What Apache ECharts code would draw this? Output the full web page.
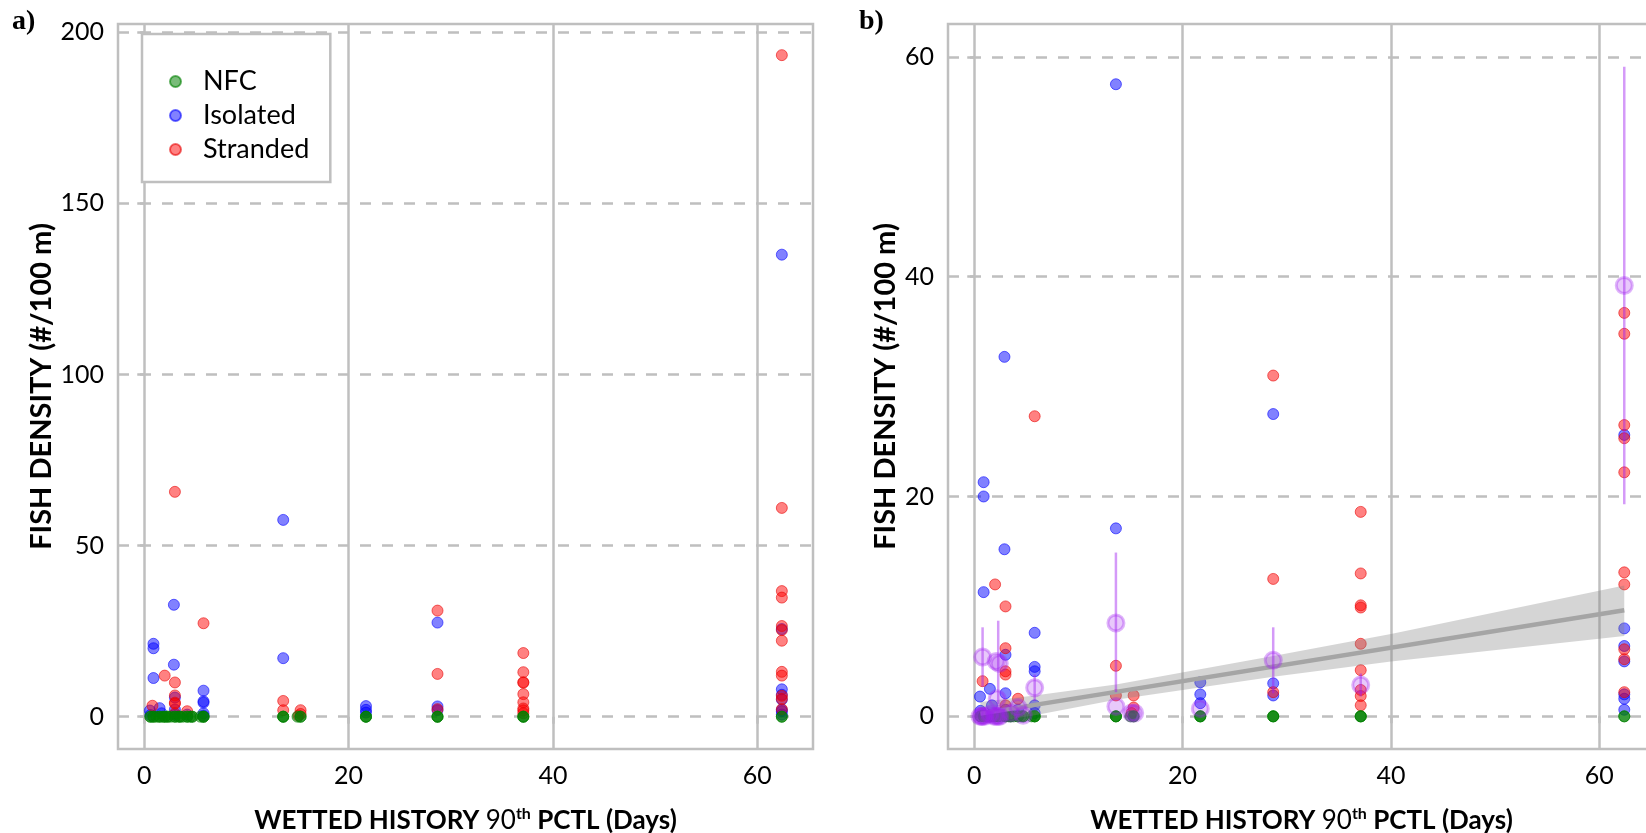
<!DOCTYPE html>
<html>
<head>
<meta charset="utf-8">
<script src="https://cdn.jsdelivr.net/npm/echarts@6/dist/echarts.min.js"></script>
<style>
  html, body { margin: 0; padding: 0; background: #fff; }
  #chart { width: 1646px; height: 833px; }
</style>
</head>
<body>
<div id="chart"></div>
<script>
// ---- data: fish density (#/100 m) by wetted-history 90th percentile (days) ----
const categories = ['NFC', 'Isolated', 'Stranded'];

// NFC observations (several sampling events share the same site value)
const nfcPoints = [
  [0.6, 0], [0.6, 0], [0.9, 0], [0.9, 0], [1.2, 0], [1.5, 0], [1.5, 0], [1.8, 0], [2.0, 0], [2.0, 0],
  [2.3, 0], [2.3, 0], [2.6, 0], [3.0, 0], [3.0, 0], [3.3, 0], [3.5, 0], [3.5, 0], [3.8, 0],
  [4.2, 0], [4.2, 0], [4.5, 0], [4.7, 0], [4.7, 0], [5.5, 0], [5.8, 0], [5.8, 0], [5.8, 0],
  [13.6, 0], [13.6, 0], [13.6, 0], [15.0, 0], [15.3, 0], [15.3, 0],
  [21.7, 0], [21.7, 0], [21.7, 0], [28.7, 0], [28.7, 0], [28.7, 0],
  [37.1, 0], [37.1, 0], [37.1, 0], [62.4, 0], [62.4, 0]
];

const isolatedPoints = [
  [0.55, 1.8], [0.6, 0.5], [0.9, 21.3], [0.9, 20.0], [0.9, 11.3], [1.5, 2.5], [1.7, 1.0],
  [2.9, 32.7], [2.9, 15.2], [3.0, 5.6], [3.0, 2.1], [3.0, 0.6], [4.2, 0.6],
  [5.8, 7.6], [5.8, 4.5], [5.8, 4.1], [5.8, 1.0], [5.8, 0.3],
  [13.6, 57.5], [13.6, 17.1],
  [21.7, 3.1], [21.7, 2.0], [21.7, 1.2],
  [28.7, 27.5], [28.7, 3.0], [28.7, 1.9],
  [62.4, 135.0], [62.4, 25.6], [62.4, 8.0], [62.4, 6.4], [62.4, 5.0], [62.4, 2.0], [62.4, 1.6], [62.4, 0.6]
];

const strandedPoints = [
  [0.8, 3.2], [2.0, 12.0],
  [3.0, 65.7], [3.0, 10.0], [3.0, 6.2], [3.0, 4.1], [3.0, 3.8], [3.0, 1.0],
  [4.2, 1.6], [5.8, 27.3],
  [13.6, 4.6], [13.6, 1.9],
  [15.3, 1.9], [15.3, 0.8], [15.1, 0.3],
  [28.7, 31.0], [28.7, 12.5], [28.7, 2.2],
  [37.1, 18.6], [37.1, 13.0], [37.1, 10.1], [37.1, 9.9], [37.1, 6.6], [37.1, 4.2], [37.1, 2.4], [37.1, 1.85], [37.1, 1.0],
  [62.4, 193.3], [62.4, 61.0], [62.4, 36.7], [62.4, 34.8], [62.4, 26.5], [62.4, 25.3], [62.4, 22.2],
  [62.4, 13.1], [62.4, 12.0], [62.4, 6.1], [62.4, 5.2], [62.4, 2.2]
];

// site means and their error bars [x, low, high]
const meanPoints = [
  [0.55, 0], [0.7, 0], [0.8, 0], [1.0, 0], [1.9, 0], [2.1, 0], [2.3, 0], [2.45, 0], [1.5, 0.2],
  [0.8, 5.4], [2.1, 5.0], [2.4, 4.8], [2.2, 1.6],
  [3.5, 0.3], [4.2, 0.8], [4.7, 0.1], [5.8, 2.6],
  [13.6, 8.5], [13.6, 0.9], [15.1, 0.3], [15.4, 0.3], [21.7, 0.7],
  [28.7, 5.1], [37.1, 2.85], [62.4, 39.2]
];
const meanErrorBars = [
  [0.8, 2.7, 8.1], [2.3, 1.1, 8.7], [5.8, 1.4, 3.8], [13.6, 2.2, 14.9],
  [28.7, 2.1, 8.1], [37.1, 1.8, 3.9], [62.4, 19.3, 59.1]
];

// linear fit and its confidence band
const trendLine = [[0.6, 0.25], [62.4, 9.65]];
const bandX     = [0.6, 5.8, 13.6, 28.7, 40.0, 62.4];
const bandUpper = [1.3, 1.9, 2.9, 5.5, 7.5, 11.9];
const bandLower = [-0.7, 0.1, 1.5, 3.6, 5.0, 7.3];

// axis ticks
const xTicks  = [0, 20, 40, 60];
const yTicksA = [0, 50, 100, 150, 200];
const yTicksB = [0, 20, 40, 60];
const yLimitB = 60;   // panel b shows densities up to 60 only

// ---- styling ----
const FONT = 'Lato';
const GRID_COLOR = '#bfbfbf';
const COLORS = {
  NFC:      { fill: 'rgba(0,128,0,0.66)',  line: 'rgba(0,128,0,0.75)' },
  Isolated: { fill: 'rgba(0,0,255,0.62)',  line: 'rgba(0,0,255,0.72)' },
  Stranded: { fill: 'rgba(255,0,0,0.62)',  line: 'rgba(230,0,0,0.72)' }
};
const PURPLE_FILL = 'rgba(160,32,240,0.30)';
const PURPLE_LINE = 'rgba(160,32,240,0.45)';

const xTitle = '{b|WETTED HISTORY }{n|90}{s|th}{b| PCTL (Days)}';
const yTitle = 'FISH DENSITY (#/100 m)';

const titleRich = {
  b: { fontFamily: FONT, fontWeight: 'bold', fontSize: 26, lineHeight: 30, color: '#000' },
  n: { fontFamily: FONT, fontWeight: 'normal', fontSize: 26, lineHeight: 30, color: '#000' },
  s: { fontFamily: FONT, fontWeight: 'bold', fontSize: 16, lineHeight: 15, verticalAlign: 'top', color: '#000' }
};

function makeXAxis(gridIndex, min, max) {
  return {
    type: 'value', gridIndex, min, max,
    minInterval: 20, maxInterval: 20, splitNumber: 3,
    axisLine: { show: false },
    axisTick: { show: true, length: 7, customValues: xTicks, lineStyle: { color: GRID_COLOR, width: 2.5 } },
    axisLabel: { customValues: xTicks, margin: 14, color: '#000', fontFamily: FONT, fontSize: 25 },
    splitLine: { show: true, lineStyle: { color: GRID_COLOR, width: 2.5, type: 'solid' } },
    name: xTitle, nameLocation: 'middle', nameGap: 57,
    nameTextStyle: { rich: titleRich }
  };
}

function makeYAxis(gridIndex, min, max, ticks, step, nameGap) {
  return {
    type: 'value', gridIndex, min, max,
    minInterval: step, maxInterval: step, splitNumber: 4,
    axisLine: { show: false },
    axisTick: { show: true, length: 7, customValues: ticks, lineStyle: { color: GRID_COLOR, width: 2.5 } },
    axisLabel: { customValues: ticks, margin: 14, color: '#000', fontFamily: FONT, fontSize: 25 },
    splitLine: { show: true, lineStyle: { color: GRID_COLOR, width: 2.5, type: [11, 11] } },
    name: yTitle, nameLocation: 'middle', nameRotate: 90, nameGap,
    nameTextStyle: { fontFamily: FONT, fontWeight: 'bold', fontSize: 29, color: '#000' }
  };
}

function scatterSeries(name, points, axisIndex, z) {
  return {
    type: 'scatter', name, data: points,
    xAxisIndex: axisIndex, yAxisIndex: axisIndex,
    symbol: 'circle', symbolSize: 11, z,
    itemStyle: { color: COLORS[name].fill, borderColor: COLORS[name].line, borderWidth: 1 },
    emphasis: { disabled: true }
  };
}

const inPanelB = p => p[1] <= yLimitB;

const option = {
  animation: false,
  backgroundColor: '#fff',
  title: [
    { text: 'a)', left: 12, top: 8, padding: 0,
      textStyle: { fontFamily: 'Liberation Serif', fontWeight: 'bold', fontSize: 28, color: '#000' } },
    { text: 'b)', left: 859, top: 8, padding: 0,
      textStyle: { fontFamily: 'Liberation Serif', fontWeight: 'bold', fontSize: 28, color: '#000' } }
  ],
  legend: {
    data: categories,
    orient: 'vertical',
    left: 142, top: 34,
    padding: [34, 21, 19, 27],
    itemGap: 7, itemWidth: 11, itemHeight: 11,
    icon: 'circle',
    backgroundColor: '#fff',
    borderColor: GRID_COLOR, borderWidth: 2.5, borderRadius: 0,
    selectedMode: false,
    textStyle: { fontFamily: FONT, fontSize: 27, lineHeight: 27, color: '#000', padding: [0, 0, 0, 17] }
  },
  grid: [
    { left: 118, top: 24, width: 695, height: 725, show: true, borderColor: GRID_COLOR, borderWidth: 2.5,
      backgroundColor: 'transparent', outerBoundsMode: 'none', containLabel: false },
    { left: 948, top: 24, width: 707, height: 725, show: true, borderColor: GRID_COLOR, borderWidth: 2.5,
      backgroundColor: 'transparent', outerBoundsMode: 'none', containLabel: false }
  ],
  xAxis: [ makeXAxis(0, -2.57, 65.45), makeXAxis(1, -2.52, 65.35) ],
  yAxis: [ makeYAxis(0, -9.44, 202.4, yTicksA, 50, 62), makeYAxis(1, -2.97, 62.98, yTicksB, 20, 48) ],
  series: [
    // panel a
    scatterSeries('Isolated', isolatedPoints, 0, 2),
    scatterSeries('Stranded', strandedPoints, 0, 3),
    scatterSeries('NFC', nfcPoints, 0, 4),
    // panel b
    scatterSeries('Isolated', isolatedPoints.filter(inPanelB), 1, 2),
    scatterSeries('Stranded', strandedPoints.filter(inPanelB), 1, 3),
    scatterSeries('NFC', nfcPoints.filter(inPanelB), 1, 4),
    {
      type: 'custom', name: 'Fit band', xAxisIndex: 1, yAxisIndex: 1, z: 5,
      data: [[bandX[0], bandLower[0]]],
      renderItem: (params, api) => {
        const pts = [];
        bandX.forEach((x, i) => pts.push(api.coord([x, bandUpper[i]])));
        for (let i = bandX.length - 1; i >= 0; i--) pts.push(api.coord([bandX[i], bandLower[i]]));
        return { type: 'polygon', shape: { points: pts }, style: { fill: 'rgba(128,128,128,0.33)' } };
      },
      silent: true
    },
    {
      type: 'line', name: 'Fit', data: trendLine, xAxisIndex: 1, yAxisIndex: 1, z: 6,
      symbol: 'none', lineStyle: { color: '#a5a5a5', width: 4.5 }, silent: true
    },
    {
      type: 'custom', name: 'Mean error', xAxisIndex: 1, yAxisIndex: 1, z: 7,
      data: meanErrorBars,
      encode: { x: 0, y: [1, 2] },
      renderItem: (params, api) => {
        const lo = api.coord([api.value(0), api.value(1)]);
        const hi = api.coord([api.value(0), api.value(2)]);
        return { type: 'line', shape: { x1: lo[0], y1: lo[1], x2: hi[0], y2: hi[1] },
                 style: { stroke: PURPLE_LINE, lineWidth: 2.5 } };
      },
      silent: true
    },
    {
      type: 'scatter', name: 'Mean', data: meanPoints, xAxisIndex: 1, yAxisIndex: 1, z: 8,
      symbol: 'circle', symbolSize: 16,
      itemStyle: { color: PURPLE_FILL, borderColor: 'rgba(160,32,240,0.42)', borderWidth: 3 },
      emphasis: { disabled: true }
    }
  ]
};

const chart = echarts.init(document.getElementById('chart'), null, { renderer: 'canvas' });
chart.setOption(option);
</script>
</body>
</html>
